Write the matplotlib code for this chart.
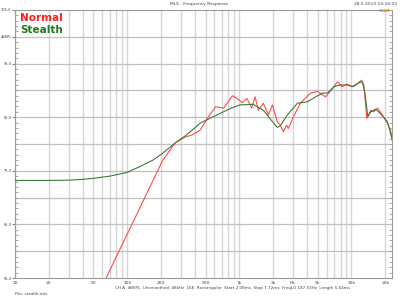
import matplotlib
matplotlib.use("Agg")
import matplotlib.pyplot as plt
from matplotlib.ticker import FixedLocator, NullFormatter, MultipleLocator

green_f = [10, 20, 30, 40, 50, 70, 100, 130, 170, 208, 268, 329, 380, 449, 550, 673, 850,
           1013, 1330, 1640, 1970, 2180, 2320, 2680, 3300, 4060, 4800, 5530, 6130, 6960,
           7970, 9170, 10400, 11600, 12500, 13200, 14000, 14900, 16400, 18100, 20900, 23000]
green_db = [73.2, 73.2, 73.25, 73.4, 73.6, 74.0, 74.7, 75.8, 77.0, 78.3, 80.2, 81.5, 82.6, 83.9,
            84.8, 85.7, 86.7, 87.3, 87.4, 86.3, 84.2, 83.1, 83.4, 85.4, 87.6, 87.9, 88.8, 89.5,
            89.5, 90.7, 91.0, 91.0, 90.7, 91.4, 91.6, 89.5, 85.1, 86.0, 86.5, 85.7, 84.2, 81.1]

red_f = [30, 65, 208, 268, 329, 380, 449, 519, 616, 727, 868, 957, 1060, 1170, 1290, 1385,
         1475, 1640, 1820, 1970, 2180, 2320, 2470, 2630, 2740, 3040, 3500, 4300, 4990, 5880,
         6830, 7500, 8300, 9170, 10100, 11300, 12300, 12900, 13700, 14400, 14900, 15800,
         17100, 18900, 20900, 22300, 23000]
red_db = [40, 55, 77.0, 80.2, 81.3, 81.7, 82.6, 84.8, 86.96, 86.7, 89.0, 88.5, 87.7, 88.5,
          86.7, 88.8, 86.3, 87.6, 85.4, 87.3, 84.2, 83.5, 82.3, 83.5, 82.9, 85.1, 87.6, 89.5,
          89.8, 88.8, 90.4, 91.6, 90.7, 91.2, 90.7, 91.3, 91.9, 91.0, 84.8, 85.7, 86.3, 86.0,
          86.7, 85.4, 83.9, 82.6, 80.7]

x_ticks = [10, 20, 50, 100, 200, 500, 1000, 2000, 3000, 5000, 10000, 20000]
x_labels = ["10", "20", "50", "100", "200", "500", "1k", "2k", "Hz", "5k", "10k", "20k"]
y_ticks = [55, 65, 75, 85, 95, 100, 105]
y_labels = ["55.0", "65.0", "75.0", "85.0", "95.0", "dBSPL", "105.0"]

fig = plt.figure(figsize=(4, 3), dpi=100)
ax = fig.add_axes([15/400, 1-278/300, (392-15)/400, 268/300])
ax.set_xscale("log")
ax.set_xlim(10, 23000)
ax.set_ylim(55, 105)

vgrid = [v * m for m in (10, 100, 1000, 10000) for v in range(1, 10) if v * m <= 20000]
for v in vgrid:
    ax.axvline(v, color="#d6d6d6", lw=1.0, zorder=0)
for h in range(60, 105, 5):
    ax.axhline(h, color="#c0c0c0", lw=0.9, zorder=0)

ax.plot(red_f, red_db, color="#ff4b4b", lw=0.8, zorder=3)
ax.plot(green_f, green_db, color="#3d7a3d", lw=0.8, zorder=4)

ax.xaxis.set_major_locator(FixedLocator(x_ticks))
ax.set_xticklabels(x_labels)
ax.xaxis.set_minor_formatter(NullFormatter())
ax.tick_params(axis="x", which="both", length=0, labelsize=3.2, colors="#444444", pad=2)
ax.yaxis.set_major_locator(FixedLocator(y_ticks))
ax.set_yticklabels(y_labels)
ax.yaxis.set_minor_locator(MultipleLocator(1))
ax.tick_params(axis="y", which="major", length=2, direction="out", labelsize=2.6,
               colors="#888888", labelcolor="#444444", pad=0.5, right=False)
ax.tick_params(axis="y", which="minor", length=2, direction="in", colors="#999999",
               left=True, right=True)
for s in ax.spines.values():
    s.set_color("#999999")
    s.set_linewidth(0.8)

fig.text(20/400, 1-18/300, "Normal", color="#ff1f1f", fontsize=7.5, fontweight="bold",
         va="center", ha="left")
fig.text(20/400, 1-30/300, "Stealth", color="#1f7a1f", fontsize=7.5, fontweight="bold",
         va="center", ha="left")

fig.text(199/400, 1-4/300, "MLS - Frequency Response", fontsize=3.2, color="#444444",
         ha="center", va="center")
fig.text(397/400, 1-4/300, "28.5.2013 14:34:03", fontsize=3.2, color="#444444",
         ha="right", va="center")
fig.text(390/400, 1-11/300, "CLIO", fontsize=3.2, color="#d08a00", fontweight="bold",
         ha="right", va="center")
fig.text(115/400, 1-288/300,
         "CH A  dBSPL  Unsmoothed  48kHz  16K  Rectangular  Start 2.08ms  Stop 7.72ms  "
         "FreqLO 187.53Hz  Length 5.64ms",
         fontsize=3.0, color="#444444", ha="left", va="center")
fig.text(15/400, 1-294/300, "File: stealth.mls", fontsize=3.0, color="#444444",
         ha="left", va="center")

fig.savefig("out.png", dpi=100)
